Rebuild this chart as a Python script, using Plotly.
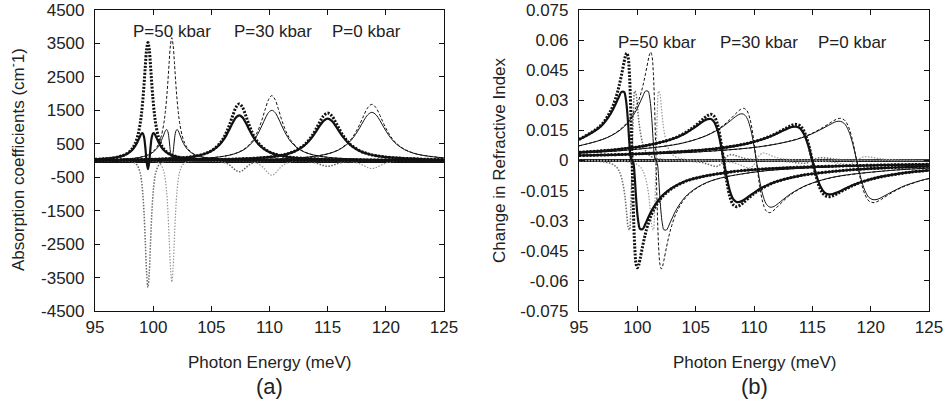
import plotly.graph_objects as go

# photon energies (meV) for each group of curves; "a" = thick set, "b" = thin set
energy_50a = [95, 96.85, 97.75, 98.2, 98.425, 98.65, 98.875, 98.988, 99.1, 99.213, 99.325, 99.438, 99.55,
              99.663, 99.775, 99.888, 100.0, 100.113, 100.225, 100.45, 100.675, 100.9, 101.35, 102.25, 104.05,
              108, 113, 119, 125]
energy_50b = [95, 97.5, 98.9, 99.8, 100.25, 100.475, 100.7, 100.925, 101.038, 101.15, 101.263, 101.375, 101.488,
              101.6, 101.713, 101.825, 101.938, 102.05, 102.163, 102.275, 102.5, 102.725, 102.95, 103.4, 104.3,
              106.1, 110, 115, 120, 125]
energy_30a = [95, 98, 100.8, 103, 104.1, 104.65, 105.2, 105.75, 106.025, 106.3, 106.575, 106.85, 107.125, 107.4,
              107.675, 107.95, 108.225, 108.5, 108.775, 109.05, 109.6, 110.15, 110.7, 111.8, 114, 118.4, 122, 125]
energy_30b = [95, 99, 103.6, 105.8, 106.9, 107.45, 108, 108.55, 108.825, 109.1, 109.375, 109.65, 109.925, 110.2,
              110.475, 110.75, 111.025, 111.3, 111.575, 111.85, 112.4, 112.95, 113.5, 114.6, 116.8, 121.2, 125]
energy_0a = [95, 100, 106.6, 109.4, 110.8, 111.5, 112.2, 112.9, 113.25, 113.6, 113.95, 114.3, 114.65, 115,
             115.35, 115.7, 116.05, 116.4, 116.75, 117.1, 117.8, 118.5, 119.2, 120.6, 123.4, 125]
energy_0b = [95, 100, 105, 110.4, 113.2, 114.6, 115.3, 116, 116.7, 117.05, 117.4, 117.75, 118.1, 118.45, 118.8,
             119.15, 119.5, 119.85, 120.2, 120.55, 120.9, 121.6, 122.3, 123, 124.4, 125]

# (a) absorption coefficients, cm^-1 : linear, third order, total
abs_lin_50a = [34, 95, 208, 353, 487, 706, 1086, 1377, 1765, 2259, 2824, 3322, 3530, 3322, 2824, 2259, 1765,
               1377, 1086, 706, 487, 353, 208, 95, 35, 10, 4, 2, 1]
abs_3rd_50a = [0, -3, -13, -38, -72, -152, -359, -577, -948, -1552, -2426, -3357, -3790, -3357, -2426, -1552,
               -948, -577, -359, -152, -72, -38, -13, -3, 0, 0, 0, 0, 0]
abs_tot_50a = [34, 92, 195, 315, 415, 554, 727, 800, 817, 707, 398, -35, -260, -35, 398, 707, 817, 800, 727,
               554, 415, 315, 195, 92, 35, 10, 4, 2, 1]
abs_lin_50b = [17, 44, 99, 216, 367, 506, 734, 1129, 1432, 1835, 2349, 2936, 3454, 3670, 3454, 2936, 2349,
               1835, 1432, 1129, 734, 506, 367, 216, 99, 36, 10, 4, 2, 1]
abs_3rd_50b = [0, -1, -3, -13, -36, -69, -145, -344, -553, -908, -1487, -2323, -3215, -3630, -3215, -2323,
               -1487, -908, -553, -344, -145, -69, -36, -13, -3, 0, 0, 0, 0, 0]
abs_tot_50b = [17, 43, 96, 203, 331, 437, 589, 785, 879, 927, 862, 613, 239, 40, 239, 613, 862, 927, 879, 785,
               589, 437, 331, 203, 96, 36, 10, 4, 2, 1]
abs_lin_30a = [13, 23, 46, 99, 169, 233, 338, 520, 659, 845, 1082, 1352, 1591, 1690, 1591, 1352, 1082, 845,
               659, 520, 338, 233, 169, 99, 46, 17, 10, 7]
abs_3rd_30a = [0, 0, 0, -1, -3, -6, -14, -32, -52, -85, -139, -218, -301, -340, -301, -218, -139, -85, -52,
               -32, -14, -6, -3, -1, 0, 0, 0, 0]
abs_tot_30a = [13, 23, 46, 98, 166, 227, 324, 488, 607, 760, 943, 1134, 1290, 1350, 1290, 1134, 943, 760, 607,
               488, 324, 227, 166, 98, 46, 17, 10, 7]
abs_lin_30b = [10, 19, 52, 114, 194, 268, 388, 597, 757, 970, 1242, 1552, 1826, 1940, 1826, 1552, 1242, 970,
               757, 597, 388, 268, 194, 114, 52, 19, 11]
abs_3rd_30b = [0, 0, 0, -2, -4, -8, -18, -42, -67, -110, -180, -282, -390, -440, -390, -282, -180, -110, -67,
               -42, -18, -8, -4, -2, 0, 0, 0]
abs_tot_30b = [10, 19, 52, 112, 190, 260, 370, 555, 690, 860, 1062, 1270, 1436, 1500, 1436, 1270, 1062, 860,
               690, 555, 370, 260, 190, 112, 52, 19, 11]
abs_lin_0a = [7, 12, 38, 84, 142, 196, 284, 437, 554, 710, 909, 1136, 1336, 1420, 1336, 1136, 909, 710, 554,
              437, 284, 196, 142, 84, 38, 27]
abs_3rd_0a = [0, 0, 0, -1, -2, -3, -7, -16, -26, -43, -70, -109, -151, -170, -151, -109, -70, -43, -26, -16,
              -7, -3, -2, -1, 0, 0]
abs_tot_0a = [7, 12, 38, 83, 140, 193, 277, 421, 528, 667, 839, 1027, 1185, 1250, 1185, 1027, 839, 667, 528,
              421, 277, 193, 140, 83, 38, 27]
abs_lin_0b = [6, 9, 17, 45, 99, 168, 232, 336, 517, 656, 840, 1075, 1344, 1581, 1680, 1581, 1344, 1075, 840,
              656, 517, 336, 232, 168, 99, 82]
abs_3rd_0b = [0, 0, 0, 0, -1, -2, -5, -10, -23, -37, -60, -98, -154, -213, -240, -213, -154, -98, -60, -37,
              -23, -10, -5, -2, -1, -1]
abs_tot_0b = [6, 9, 17, 45, 98, 166, 227, 326, 494, 619, 780, 977, 1190, 1368, 1440, 1368, 1190, 977, 780, 619,
              494, 326, 227, 166, 98, 81]

# (b) change in refractive index : linear, third order, total
dn_lin_50a = [0.0105, 0.0174, 0.0252, 0.0321, 0.0369, 0.0428, 0.0494, 0.0522, 0.0535, 0.0514, 0.0428, 0.0252, 0,
              -0.0252, -0.0428, -0.0514, -0.0535, -0.0522, -0.0494, -0.0428, -0.0369, -0.0321, -0.0252,
              -0.0174, -0.0106, -0.0057, -0.0036, -0.0025, -0.0019]
dn_3rd_50a = [-0.0001, -0.0005, -0.0015, -0.0032, -0.0051, -0.0086, -0.0153, -0.0206, -0.0270, -0.0332,
              -0.0346, -0.0239, 0, 0.0239, 0.0346, 0.0332, 0.0270, 0.0206, 0.0153, 0.0086, 0.0051, 0.0032,
              0.0015, 0.0005, 0.0001, 0, 0, 0, 0]
dn_tot_50a = [0.0104, 0.0169, 0.0237, 0.0289, 0.0318, 0.0342, 0.0341, 0.0316, 0.0265, 0.0182, 0.0082, 0.0013, 0,
              -0.0013, -0.0082, -0.0182, -0.0265, -0.0316, -0.0341, -0.0342, -0.0318, -0.0289, -0.0237,
              -0.0169, -0.0105, -0.0057, -0.0036, -0.0025, -0.0019]
dn_lin_50b = [0.0073, 0.0117, 0.0175, 0.0254, 0.0324, 0.0372, 0.0432, 0.0498, 0.0527, 0.0540, 0.0518, 0.0432,
              0.0254, 0, -0.0254, -0.0432, -0.0518, -0.0540, -0.0527, -0.0498, -0.0432, -0.0372, -0.0324,
              -0.0254, -0.0175, -0.0107, -0.0058, -0.0036, -0.0026, -0.0021]
dn_3rd_50b = [0, -0.0001, -0.0005, -0.0015, -0.0032, -0.0051, -0.0086, -0.0153, -0.0206, -0.0270, -0.0332,
              -0.0346, -0.0239, 0, 0.0239, 0.0346, 0.0332, 0.0270, 0.0206, 0.0153, 0.0086, 0.0051, 0.0032,
              0.0015, 0.0005, 0.0001, 0, 0, 0, 0]
dn_tot_50b = [0.0073, 0.0116, 0.0170, 0.0239, 0.0292, 0.0321, 0.0346, 0.0345, 0.0321, 0.0270, 0.0187, 0.0086,
              0.0015, 0, -0.0015, -0.0086, -0.0187, -0.0270, -0.0321, -0.0345, -0.0346, -0.0321, -0.0292,
              -0.0239, -0.0170, -0.0106, -0.0058, -0.0036, -0.0026, -0.0021]
dn_lin_30a = [0.0041, 0.0053, 0.0075, 0.0108, 0.0138, 0.0159, 0.0184, 0.0212, 0.0224, 0.0230, 0.0221, 0.0184,
              0.0108, 0, -0.0108, -0.0184, -0.0221, -0.0230, -0.0224, -0.0212, -0.0184, -0.0159, -0.0138,
              -0.0108, -0.0075, -0.0046, -0.0035, -0.0029]
dn_3rd_30a = [0, 0, 0, -0.0001, -0.0003, -0.0004, -0.0007, -0.0013, -0.0018, -0.0023, -0.0028, -0.0029, -0.0020,
              0, 0.0020, 0.0029, 0.0028, 0.0023, 0.0018, 0.0013, 0.0007, 0.0004, 0.0003, 0.0001, 0, 0, 0, 0]
dn_tot_30a = [0.0041, 0.0053, 0.0075, 0.0107, 0.0135, 0.0155, 0.0177, 0.0199, 0.0206, 0.0207, 0.0193, 0.0155,
              0.0088, 0, -0.0088, -0.0155, -0.0193, -0.0207, -0.0206, -0.0199, -0.0177, -0.0155, -0.0135,
              -0.0107, -0.0075, -0.0046, -0.0035, -0.0029]
dn_lin_30b = [0.0037, 0.0051, 0.0084, 0.0122, 0.0156, 0.0179, 0.0208, 0.0240, 0.0254, 0.0260, 0.0250, 0.0208,
              0.0122, 0, -0.0122, -0.0208, -0.0250, -0.0260, -0.0254, -0.0240, -0.0208, -0.0179, -0.0156,
              -0.0122, -0.0084, -0.0052, -0.0038]
dn_3rd_30b = [0, 0, -0.0001, -0.0002, -0.0004, -0.0006, -0.0009, -0.0016, -0.0022, -0.0029, -0.0035, -0.0037,
              -0.0026, 0, 0.0026, 0.0037, 0.0035, 0.0029, 0.0022, 0.0016, 0.0009, 0.0006, 0.0004, 0.0002,
              0.0001, 0, 0]
dn_tot_30b = [0.0037, 0.0051, 0.0083, 0.0121, 0.0153, 0.0174, 0.0199, 0.0224, 0.0232, 0.0231, 0.0214, 0.0171,
              0.0097, 0, -0.0097, -0.0171, -0.0214, -0.0231, -0.0232, -0.0224, -0.0199, -0.0174, -0.0153,
              -0.0121, -0.0083, -0.0052, -0.0038]
dn_lin_0a = [0.0025, 0.0033, 0.0058, 0.0085, 0.0108, 0.0124, 0.0144, 0.0166, 0.0176, 0.0180, 0.0173, 0.0144,
             0.0085, 0, -0.0085, -0.0144, -0.0173, -0.0180, -0.0176, -0.0166, -0.0144, -0.0124, -0.0108,
             -0.0085, -0.0058, -0.0049]
dn_3rd_0a = [0, 0, 0, -0.0001, -0.0001, -0.0002, -0.0003, -0.0006, -0.0008, -0.0011, -0.0013, -0.0014, -0.0010,
             0, 0.0010, 0.0014, 0.0013, 0.0011, 0.0008, 0.0006, 0.0003, 0.0002, 0.0001, 0.0001, 0, 0]
dn_tot_0a = [0.0025, 0.0033, 0.0058, 0.0084, 0.0107, 0.0122, 0.0141, 0.0160, 0.0167, 0.0169, 0.0160, 0.0130,
             0.0075, 0, -0.0075, -0.0130, -0.0160, -0.0169, -0.0167, -0.0160, -0.0141, -0.0122, -0.0107,
             -0.0084, -0.0058, -0.0049]
dn_lin_0b = [0.0025, 0.0031, 0.0042, 0.0068, 0.0099, 0.0126, 0.0145, 0.0168, 0.0194, 0.0205, 0.0210, 0.0202,
             0.0168, 0.0099, 0, -0.0099, -0.0168, -0.0202, -0.0210, -0.0205, -0.0194, -0.0168, -0.0145,
             -0.0126, -0.0099, -0.0090]
dn_3rd_0b = [0, 0, 0, 0, -0.0001, -0.0002, -0.0003, -0.0005, -0.0008, -0.0011, -0.0015, -0.0018, -0.0019,
             -0.0013, 0, 0.0013, 0.0019, 0.0018, 0.0015, 0.0011, 0.0008, 0.0005, 0.0003, 0.0002, 0.0001, 0.0001]
dn_tot_0b = [0.0025, 0.0031, 0.0042, 0.0068, 0.0098, 0.0124, 0.0142, 0.0163, 0.0185, 0.0194, 0.0195, 0.0184,
             0.0149, 0.0086, 0, -0.0086, -0.0149, -0.0184, -0.0195, -0.0194, -0.0185, -0.0163, -0.0142,
             -0.0124, -0.0098, -0.0090]

pressure_labels = ["P=50 kbar", "P=30 kbar", "P=0 kbar"]
label_x_abs = [101.6, 110.3, 118.3]
label_x_dn = [101.7, 110.4, 118.4]

x_ticks = [95, 100, 105, 110, 115, 120, 125]
abs_ticks = [-4500, -3500, -2500, -1500, -500, 500, 1500, 2500, 3500, 4500]
dn_ticks = [-0.075, -0.06, -0.045, -0.03, -0.015, 0, 0.015, 0.03, 0.045, 0.06, 0.075]
dn_tick_text = ["-0.075", "-0.06", "-0.045", "-0.03", "-0.015", "0", "0.015", "0.03", "0.045", "0.06", "0.075"]

FONT = "Liberation Sans, Arial, sans-serif"

styles = {
    "3rd_a": dict(color="#6a6a6a", width=1.5, dash="1.5px,1.5px"),
    "3rd_b": dict(color="#9a9a9a", width=1.2, dash="1.5px,1.5px"),
    "lin_b": dict(color="#111111", width=1, dash="3px,2px"),
    "lin_a": dict(color="#111111", width=3, dash="2px,1.5px"),
    "tot_b": dict(color="#111111", width=1),
    "tot_a": dict(color="#111111", width=2.2),
}

groups = [
    (energy_50a, "a", abs_lin_50a, abs_3rd_50a, abs_tot_50a, dn_lin_50a, dn_3rd_50a, dn_tot_50a),
    (energy_50b, "b", abs_lin_50b, abs_3rd_50b, abs_tot_50b, dn_lin_50b, dn_3rd_50b, dn_tot_50b),
    (energy_30a, "a", abs_lin_30a, abs_3rd_30a, abs_tot_30a, dn_lin_30a, dn_3rd_30a, dn_tot_30a),
    (energy_30b, "b", abs_lin_30b, abs_3rd_30b, abs_tot_30b, dn_lin_30b, dn_3rd_30b, dn_tot_30b),
    (energy_0a, "a", abs_lin_0a, abs_3rd_0a, abs_tot_0a, dn_lin_0a, dn_3rd_0a, dn_tot_0a),
    (energy_0b, "b", abs_lin_0b, abs_3rd_0b, abs_tot_0b, dn_lin_0b, dn_3rd_0b, dn_tot_0b),
]

fig = go.Figure()
# draw in layers: third order (gray) first, then linear, then total on top
for kind in ["3rd", "lin", "tot"]:
    for energy, s, a_lin, a_3rd, a_tot, n_lin, n_3rd, n_tot in groups:
        ya = {"lin": a_lin, "3rd": a_3rd, "tot": a_tot}[kind]
        yn = {"lin": n_lin, "3rd": n_3rd, "tot": n_tot}[kind]
        st = styles[kind + "_" + s]
        fig.add_trace(go.Scatter(x=energy, y=ya, mode="lines", line=st, line_shape="spline",
                                 xaxis="x", yaxis="y", hoverinfo="skip"))
        fig.add_trace(go.Scatter(x=energy, y=yn, mode="lines", line=st, line_shape="spline",
                                 xaxis="x2", yaxis="y2", hoverinfo="skip"))

W, H = 951, 400
axis_common = dict(ticks="inside", ticklen=5, tickwidth=1, tickcolor="#111", mirror="allticks",
                   showline=True, linecolor="#111", linewidth=1.2, showgrid=False, automargin=False,
                   tickfont=dict(family=FONT, size=17, color="#222"))

fig.update_layout(
    width=W, height=H,
    margin=dict(l=0, r=0, t=10, b=89),
    paper_bgcolor="white", plot_bgcolor="white",
    showlegend=False,
    xaxis=dict(domain=[95 / W, 444 / W], range=[95, 125], tickvals=x_ticks, zeroline=False,
               anchor="y", **axis_common),
    yaxis=dict(domain=[0, 1], range=[-4500, 4500], tickvals=abs_ticks, ticktext=[str(v) for v in abs_ticks],
               zeroline=True, zerolinecolor="#111", zerolinewidth=3.5, anchor="x",
               ticklabelstandoff=6, **axis_common),
    xaxis2=dict(domain=[579 / W, 929 / W], range=[95, 125], tickvals=x_ticks, zeroline=False,
                anchor="y2", **axis_common),
    yaxis2=dict(domain=[0, 1], range=[-0.075, 0.075], tickvals=dn_ticks, ticktext=dn_tick_text,
                zeroline=True, zerolinecolor="#111", zerolinewidth=2.5, anchor="x2",
                ticklabelstandoff=6, **axis_common),
)

txt_font = dict(family=FONT, size=17, color="#222")
ann = []
for lab, xa, xb in zip(pressure_labels, label_x_abs, label_x_dn):
    ann.append(dict(x=xa, y=3850, xref="x", yref="y", text=lab, showarrow=False,
                    xanchor="center", yanchor="middle", font=txt_font))
    ann.append(dict(x=xb, y=0.0588, xref="x2", yref="y2", text=lab, showarrow=False,
                    xanchor="center", yanchor="middle", font=txt_font))

plot_h = H - 10 - 89
def py(pix):
    return (H - 89 - pix) / plot_h

for cx, sub in [((95 + 444) / 2 / W, "(a)"), ((579 + 929) / 2 / W, "(b)")]:
    ann.append(dict(x=cx, y=py(362), xref="paper", yref="paper", text="Photon Energy (meV)",
                    showarrow=False, xanchor="center", yanchor="middle", font=txt_font))
    ann.append(dict(x=cx, y=py(386), xref="paper", yref="paper", text=sub, showarrow=False,
                    xanchor="center", yanchor="middle", font=dict(family=FONT, size=22, color="#222")))

ann.append(dict(x=17 / W, y=py(160), xref="paper", yref="paper", textangle=-90,
                text="Absorption coefficients (cm<sup>-</sup>1)", showarrow=False,
                xanchor="center", yanchor="middle", font=txt_font))
ann.append(dict(x=499 / W, y=py(160), xref="paper", yref="paper", textangle=-90,
                text="Change in Refractive Index", showarrow=False,
                xanchor="center", yanchor="middle", font=txt_font))

fig.update_layout(annotations=ann)
fig.write_html("out.html", config={"displayModeBar": False},
               post_script="document.body.style.margin='0px';")
